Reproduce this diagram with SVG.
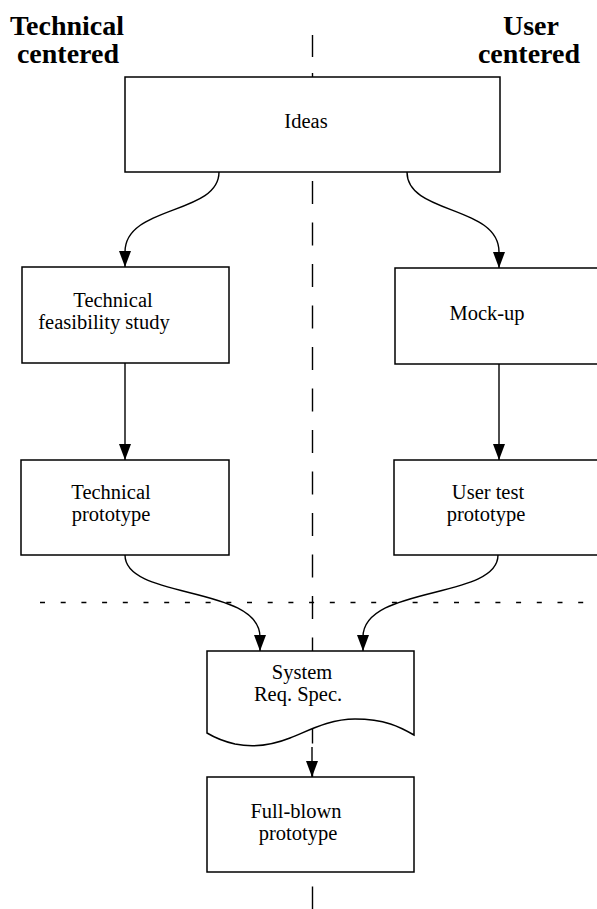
<svg xmlns="http://www.w3.org/2000/svg" width="597" height="909" viewBox="0 0 597 909">
  <style>
    .box { fill: #ffffff; stroke: #000000; stroke-width: 1.5; }
    .lbl { font-family: "Liberation Serif", "Times New Roman", serif; font-size: 20.5px; fill: #000000; text-anchor: middle; }
    .head { font-family: "Liberation Serif", "Times New Roman", serif; font-size: 28px; font-weight: bold; fill: #000000; text-anchor: middle; }
    .edge { fill: none; stroke: #000000; stroke-width: 1.4; }
    .divider { fill: none; stroke: #000000; stroke-width: 1.4; }
  </style>
  <defs>
    <!-- filled arrowhead, drawn pointing along +x so orient="auto" follows the path -->
    <marker id="arrow" viewBox="0 0 16 12" refX="16" refY="6" markerWidth="16" markerHeight="12" markerUnits="userSpaceOnUse" orient="auto">
      <path d="M0,0 L16,6 L0,12 Z" fill="#000000"/>
    </marker>
  </defs>

  <rect width="597" height="909" fill="#ffffff"/>

  <!-- column headings -->
  <g id="headings">
    <text class="head" x="67" y="35">Technical</text>
    <text class="head" x="68" y="63">centered</text>
    <text class="head" x="531" y="35">User</text>
    <text class="head" x="529" y="63">centered</text>
  </g>

  <!-- dashed dividers between the two approaches -->
  <g id="dividers">
    <line class="divider" x1="312.5" y1="35" x2="312.5" y2="57"/>
    <line class="divider" x1="312.5" y1="73" x2="312.5" y2="80"/>
    <line class="divider" x1="312.5" y1="181" x2="312.5" y2="909" stroke-dasharray="23 18.5"/>
    <line class="divider" x1="40" y1="602.5" x2="585" y2="602.5" stroke-dasharray="5 15.7"/>
  </g>

  <!-- connectors -->
  <g id="connectors">
    <path class="edge" d="M219,172 C219,215 125,205 125,252 L125,267" marker-end="url(#arrow)"/>
    <path class="edge" d="M407,172 C407,215 499,205 499,252 L499,268" marker-end="url(#arrow)"/>
    <path class="edge" d="M125,363 L125,460" marker-end="url(#arrow)"/>
    <path class="edge" d="M499,364 L499,460" marker-end="url(#arrow)"/>
    <path class="edge" d="M125,555 C125,600 260,585 260,637 L260,651" marker-end="url(#arrow)"/>
    <path class="edge" d="M498,555 C498,600 363,585 363,637 L363,651" marker-end="url(#arrow)"/>
    <path class="edge" d="M312,747 L312,777" marker-end="url(#arrow)"/>
  </g>

  <g id="ideas">
    <rect class="box" x="125" y="77" width="375" height="95"/>
    <text class="lbl" x="306" y="128">Ideas</text>
  </g>

  <g id="feasibility">
    <rect class="box" x="22" y="267" width="207" height="96"/>
    <text class="lbl" x="113" y="307">Technical</text>
    <text class="lbl" x="104" y="329">feasibility study</text>
  </g>

  <g id="mockup">
    <rect class="box" x="395" y="268" width="208" height="96"/>
    <text class="lbl" x="487" y="320">Mock-up</text>
  </g>

  <g id="tech-prototype">
    <rect class="box" x="21" y="460" width="208" height="95"/>
    <text class="lbl" x="111" y="499">Technical</text>
    <text class="lbl" x="111" y="521">prototype</text>
  </g>

  <g id="user-test-prototype">
    <rect class="box" x="394" y="460" width="209" height="95"/>
    <text class="lbl" x="488" y="499">User test</text>
    <text class="lbl" x="486" y="521">prototype</text>
  </g>

  <g id="system-req-spec">
    <path class="box" d="M207,651 L414,651 L414,735 C400,727 385,719 355,719 C330,719 310,730 290,738 C270,746 250,747 235,744 C222,741 212,736 207,733 Z"/>
    <text class="lbl" x="302" y="679">System</text>
    <text class="lbl" x="298" y="701">Req. Spec.</text>
  </g>

  <g id="full-blown-prototype">
    <rect class="box" x="207" y="777" width="207" height="95"/>
    <text class="lbl" x="296" y="818">Full-blown</text>
    <text class="lbl" x="298" y="840">prototype</text>
  </g>
</svg>
